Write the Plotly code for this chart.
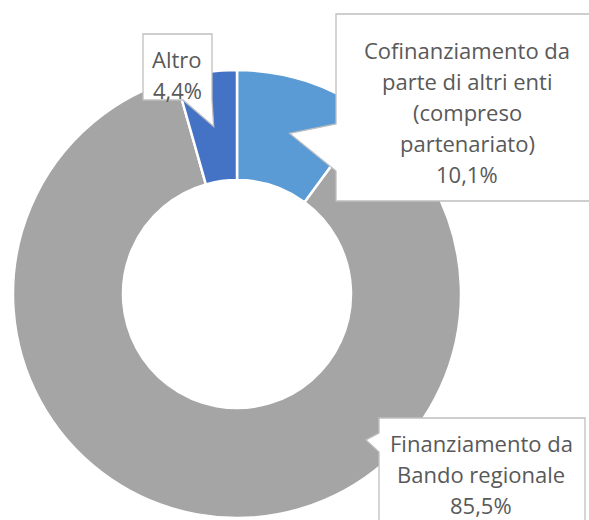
import math
import plotly.graph_objects as go

# ---- data ----
categories = ["Cofinanziamento da parte di altri enti (compreso partenariato)",
              "Finanziamento da Bando regionale",
              "Altro"]
values = [10.1, 85.5, 4.4]
label_lines = [
    ["Cofinanziamento da", "parte di altri enti", "(compreso", "partenariato)", "10,1%"],
    ["Finanziamento da", "Bando regionale", "85,5%"],
    ["Altro", "4,4%"],
]
colors = ["#5B9BD5", "#A5A5A5", "#4472C4"]

# ---- layout constants (pixels) ----
W, H = 589, 520
CX, CY = 237, 294
R_OUT, R_IN = 224, 114
FONT = "Open Sans"
FS = 22
TXT = "#595959"
BORDER = "#BFBFBF"

fig = go.Figure()
fig.add_trace(go.Pie(
    labels=categories, values=values, sort=False, direction="clockwise",
    rotation=0, hole=R_IN / R_OUT,
    marker=dict(colors=colors, line=dict(color="white", width=2.5)),
    textinfo="none", hoverinfo="label+percent", showlegend=False,
    domain=dict(x=[(CX - R_OUT) / W, (CX + R_OUT) / W],
                y=[1 - (CY + R_OUT) / H, 1 - (CY - R_OUT) / H]),
))

# tip positions from slice mid-angles
total = sum(values)
cum = 0
tips = []
rm = (R_OUT + R_IN) / 2
for v in values:
    mid = (cum + v / 2) / total * 2 * math.pi
    tips.append((CX + rm * math.sin(mid), CY - rm * math.cos(mid)))
    cum += v

# callout boxes: (x0, y0, x1, y1), pointer description
boxes = [
    dict(box=(336, 14, 600, 201), side="left", base=(124, 171), tip=tips[0],
         cx=467, base0=57, step=31.1),
    dict(box=(379, 418, 585, 540), side="left", base=(433, 452), tip=(366, 440),
         cx=481, base0=450, step=31.0),
    dict(box=(143, 34, 212, 100), side="bottom", base=(183, 212), tip=tips[2],
         cx=177, base0=66, step=31),
]

for b in boxes:
    x0, y0, x1, y1 = b["box"]
    tx, ty = b["tip"]
    if b["side"] == "left":
        ya, yb = b["base"]
        path = (f"M {x0},{y0} L {x1},{y0} L {x1},{y1} L {x0},{y1} "
                f"L {x0},{yb} L {tx:.1f},{ty:.1f} L {x0},{ya} Z")
    else:
        xa, xb = b["base"]
        path = (f"M {x0},{y0} L {x1},{y0} L {x1},{y1} L {xb},{y1} "
                f"L {tx:.1f},{ty:.1f} L {xa},{y1} L {x0},{y1} Z")
    fig.add_shape(type="path", path=path, xref="x", yref="y",
                  fillcolor="white", line=dict(color=BORDER, width=1.3), layer="above")

for b, lines in zip(boxes, label_lines):
    for i, t in enumerate(lines):
        fig.add_annotation(x=b["cx"], y=b["base0"] + i * b["step"] - 7.5,
                           xref="x", yref="y", text=t, showarrow=False,
                           xanchor="center", yanchor="middle", borderpad=0,
                           font=dict(family=FONT, size=FS, color=TXT))

fig.update_layout(
    width=W, height=H, margin=dict(l=0, r=0, t=0, b=0),
    paper_bgcolor="white", plot_bgcolor="rgba(0,0,0,0)",
    xaxis=dict(range=[0, W], visible=False, fixedrange=True),
    yaxis=dict(range=[H, 0], visible=False, fixedrange=True),
)

fig.write_html("out.html",
               config={"displayModeBar": False},
               post_script="document.body.style.margin='0';"
                           "document.body.style.overflow='hidden';")
